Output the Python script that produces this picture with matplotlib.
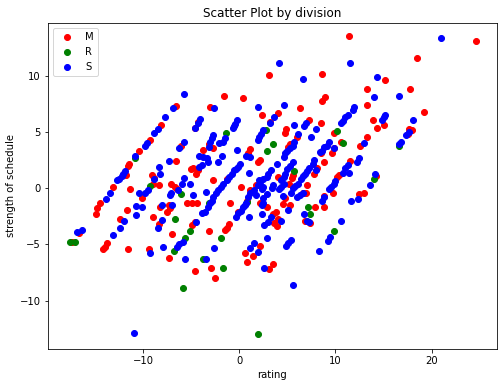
import matplotlib
matplotlib.use("Agg")
import matplotlib.pyplot as plt

# division M (red)
m_rating = [11.4, 3.1, 8.6, 24.6, 18.5, 15.2, 13.3, 17.8, 19.2,
            -6.6, -8.1, -9.3, -10.4, -11.5, -11.6, -11.8, -13.1, -11.4, -10.1,
            -9.0, -8.9, -9.1, -8.4, -6.6, -6.1, -7.1, -6.7, -6.5, -4.8, -5.0, -4.5,
            -4.6, -4.3,
            -14.5, -14.8, -14.9, -11.7, -12.4, -14.0, -14.2, -13.8, -11.6, -9.4,
            -7.3, -9.0, -8.4, -8.2, -7.5, -7.2, -7.3, -7.0, -5.4, -4.9, -4.4,
            -4.9, -4.6, -4.6, -16.7, -17.4,
            -1.0, 2.2, 2.9, 4.7, 5.3, 4.5, 3.8, 3.5, 4.0, 3.9, 3.6, -3.2, -1.3,
            -1.1, -1.5, -2.9, -2.5, -0.1, 2.2, 0.6, 0.8, 1.4, 3.1, 3.5,
            6.6, 8.8, 9.7, 12.4, 13.0, 6.8, 7.3, 7.9, 8.8,
            -1.6, 0.4, -3.1, 2.4, 4.0, 3.2, 6.3, 6.0, -3.2, -2.7, -3.8, -4.3,
            -2.7, 1.1, 0.9, 2.1, 1.9, 0.2, 1.7, 1.1, 0.8, 4.9, 4.7, 5.3, 5.1,
            4.0, 5.6, 5.5, 5.2, -1.3,
            8.9, 8.6, 13.3, 8.5, 7.2, 9.9, 10.6, 8.5, 9.6, 9.8, 13.9, 14.3,
            15.0, 17.5, 17.7, 18.0, 13.3, 12.6, 11.5, 10.4, 10.2, 14.2, 8.8,
            7.8, 6.9, 8.1, 7.0]
m_sos = [13.5, 10.1, 10.2, 13.1, 11.6, 9.6, 8.8, 8.8, 6.8,
         7.3, 5.6, 4.3, 3.3, 2.2, 2.0, 1.2, 0.1, -0.1, -0.9,
         0.4, 0.9, 1.2, 0.3, 2.4, 3.8, 0.4, 0.1, -0.1, 1.8, 1.7, 1.3,
         5.4, 5.9,
         -1.3, -1.8, -2.3, -1.9, -2.7, -5.2, -5.4, -4.9, -5.4, -5.4,
         -6.2, -2.6, -3.2, -1.7, -2.1, -1.8, -1.5, -4.1, -1.3, -1.3, -1.3,
         -3.3, -3.0, -7.4, -4.0, -4.8,
         -1.3, -1.3, -1.7, -0.9, -1.5, -1.4, -2.1, -2.3, -2.7, -3.4, -3.1, -3.8, -3.5,
         -3.2, -3.7, -7.1, -8.0, -2.1, -5.1, -5.8, -6.6, -6.0, -7.2, -6.7,
         -0.4, -0.7, -0.4, -0.5, -0.4, -2.9, -3.1, -1.7, -1.7,
         8.2, 8.0, 7.2, 6.5, 6.7, 5.9, 7.1, 4.6, 3.9, 3.6, 3.4, 1.6,
         0.7, 3.5, 3.1, 2.5, 2.3, 0.1, 0.3, -0.2, -1.1, 5.3, 4.9, 3.9, 3.7,
         1.0, 1.2, 0.9, 0.4, 0.8,
         8.1, 7.8, 7.4, 5.8, 6.1, 4.9, 4.1, 3.1, 3.1, 3.6, 6.1, 5.4,
         5.6, 4.8, 5.3, 5.2, 4.6, 3.8, 2.4, 1.2, 1.0, 1.1, 2.3,
         1.3, -0.4, 1.8, 0.3]

# division R (green)
r_rating = [-10.8, -9.3, -6.1, -6.7, -5.7, -5.1, -6.8, -5.9, -17.6, -17.1,
            -3.2, 0.8, -1.9, -3.8, -1.7, 1.9, 7.1, 7.4, 9.9,
            -1.4, 2.8, 3.5, 2.9, 5.7, 10.2, 10.8, 16.6, 14.0]
r_sos = [2.7, 0.2, -0.5, -2.7, -4.4, -3.8, -5.6, -8.9, -4.8, -4.8,
         -1.3, -1.2, -4.4, -6.3, -7.1, -13.0, -1.7, -2.3, -3.8,
         4.9, 5.2, 3.9, 3.3, 1.5, 5.1, 4.0, 3.8, 0.8]

# division S (blue)
s_rating = [4.1, 6.6, 11.5, 21.0, 14.3,
            -5.8, -6.9, -7.7, -8.5, -8.9, -9.6, -9.8, -10.8, -11.9, -12.1, -12.2,
            -12.5, -12.7, -13.5, -13.9, -10.4, -9.8, -9.5, -8.9, -8.4, -8.2,
            -7.3, -5.8, -6.3, -7.1, -7.2, -6.0, -5.8, -6.4, -5.1, -4.8,
            -10.7, -10.1, -10.7, -12.0, -12.4, -13.1, -9.3, -7.9, -8.5, -8.0,
            -8.0, -7.0, -5.9, -6.3, -6.5, -5.6, -4.5, -3.9, -16.4, -16.9, -11.0,
            -2.8, -3.0, -3.3, -3.6, 0.9, 0.7, 0.6, 2.5, 2.4, 4.5, 6.0, 6.3, 6.6,
            5.1, 3.3, 3.0, 2.6, 2.4, 4.3, -2.6, -3.5, -0.3, -0.1, 0.2, 0.4, 1.0,
            1.5, 1.1, 1.9, 2.9, 5.1, 5.4, 4.9, 2.6, 5.6,
            8.6, 8.8, 6.7, 7.0, 7.2, 10.6, 9.4, 9.2, 8.3, 12.3, 11.6,
            1.9, 4.6, 3.6, 3.2, -2.6, -4.1, -4.3, -4.6, -0.2, -0.4, -0.6, -0.7,
            -2.7, -2.8, -3.0, -3.2, -1.5, -1.7, -2.1, -3.8, -3.4, -3.3, -3.9,
            -4.2, -4.2, -2.2, -1.8, -0.2, 0.7, 1.1, 2.5, 2.3, 2.0, 1.9, 4.6, 4.8,
            5.0, 5.3, 5.6, 5.7, 5.7, 3.9, 5.6, 5.3, 5.0, 4.8, 4.6, 4.3, 0.1,
            -0.1, -0.3, -0.6, -0.8, -1.1, -1.3, -1.7, -1.9, -2.2, -2.4, -3.5,
            -2.7, 1.0, 2.0, 2.2, 1.9, 1.1, 1.5, 1.7, 2.9, 3.4, 3.5, 4.1, 4.3,
            4.6, 2.5, 3.3, 3.0, 2.9, 2.5, 2.5, 2.4, 6.1,
            14.0, 16.6, 11.9, 11.8, 11.3, 11.0, 10.8, 10.6, 6.9, 6.7, 8.0, 7.5,
            9.3, 9.1, 8.8, 8.6, 8.4, 9.9, 15.2, 15.0, 14.8, 17.6, 17.3, 16.8,
            16.6, 18.1, 13.0, 12.4, 12.2, 11.3, 11.0, 10.8, 11.4, 10.0, 9.8,
            9.5, 9.3, 13.6, 14.1, 7.8, 7.7, 8.0,
            7.2, 7.0, 6.8, 6.6, 6.4, 6.1, 5.8, 5.6, 5.4]
s_sos = [11.1, 9.7, 11.1, 13.4, 9.9,
         8.4, 7.1, 6.3, 5.3, 4.9, 4.0, 3.8, 2.9, 1.5, 1.3, 1.1,
         0.8, 0.7, -0.4, -1.0, -0.4, -0.4, -0.2, 0.8, 1.9, 1.3,
         2.4, 4.1, 3.6, -0.4, -0.6, 0.4, 0.9, -0.2, 0.4, -0.6,
         -1.6, -1.7, -2.4, -2.9, -3.5, -4.2, -5.8, -5.2, -3.5, -2.8,
         -1.5, -1.5, -4.8, -5.0, -5.2, -6.3, -3.0, -2.2, -3.7, -3.9, -12.9,
         -1.1, -1.3, -1.7, -2.1, -0.8, -1.3, -1.5, -1.3, -1.5, -0.7, -0.8, -0.6, -0.4,
         -1.9, -2.6, -3.0, -3.3, -2.3, -2.9, -5.3, -6.3, -2.6, -2.2, -2.0, -1.7, -2.6,
         -4.9, -5.3, -5.7, -4.4, -4.9, -4.6, -5.1, -7.1, -8.6,
         -1.1, -0.8, -2.3, -2.9, -3.0, -2.9, -4.3, -4.7, -5.6, -1.0, -1.1,
         7.2, 7.4, 6.3, 5.8, 7.1, 6.2, 5.8, 5.4, 6.1, 5.7, 5.5, 5.4,
         4.7, 4.5, 4.1, 3.7, 4.5, 4.1, 4.0, 2.8, 2.7, 2.3, 2.1,
         2.9, 1.9, 2.3, 2.9, 3.4, 2.9, 2.8, 5.2, 4.8, 4.6, 4.3, 2.8, 3.1,
         3.3, 3.6, 3.8, 4.1, 5.6, 2.2, 2.3, 2.0, 1.7, 1.3, 1.0, 0.7, 2.2,
         1.9, 1.7, 1.6, 1.3, 1.0, 0.7, 0.4, 0.1, -0.2, -0.4, -0.3,
         -0.8, 1.4, 0.7, 0.4, 0.3, -0.4, -0.2, -0.6, -0.5, 0.0, 0.3, -0.1, 0.1,
         0.4, -0.9, 1.6, 1.3, 1.0, 0.8, 0.1, -0.1, 4.8,
         8.1, 8.2, 7.2, 7.0, 6.5, 6.3, 6.0, 5.8, 5.8, 5.5, 5.3, 4.6,
         4.1, 3.8, 3.7, 3.3, 3.2, 3.6, 6.5, 6.3, 6.1, 5.0, 4.7, 4.1,
         3.9, 6.1, 4.0, 2.7, 2.3, 2.1, 1.8, 1.4, 1.4, 0.6, 0.4,
         0.1, -0.1, 0.3, 1.3, 2.5, 2.2, 1.6,
         1.8, 1.5, 1.3, 1.1, 0.8, 0.4, 0.2, 0.0, -0.4]

fig = plt.figure(figsize=(502 / 72, 387 / 72), dpi=72)
ax = fig.add_axes([0.0956, 0.0982, 0.8944, 0.8424])

ax.scatter(m_rating, m_sos, c='red', label='M')
ax.scatter(r_rating, r_sos, c='green', label='R')
ax.scatter(s_rating, s_sos, c='blue', label='S')

ax.set_xlim(-19.9, 26.8)
ax.set_ylim(-14.3, 14.7)
ax.set_xlabel('rating')
ax.set_ylabel('strength of schedule')
ax.set_title('Scatter Plot by division')
ax.legend(loc='upper left')

fig.savefig('out.png', dpi=72)
